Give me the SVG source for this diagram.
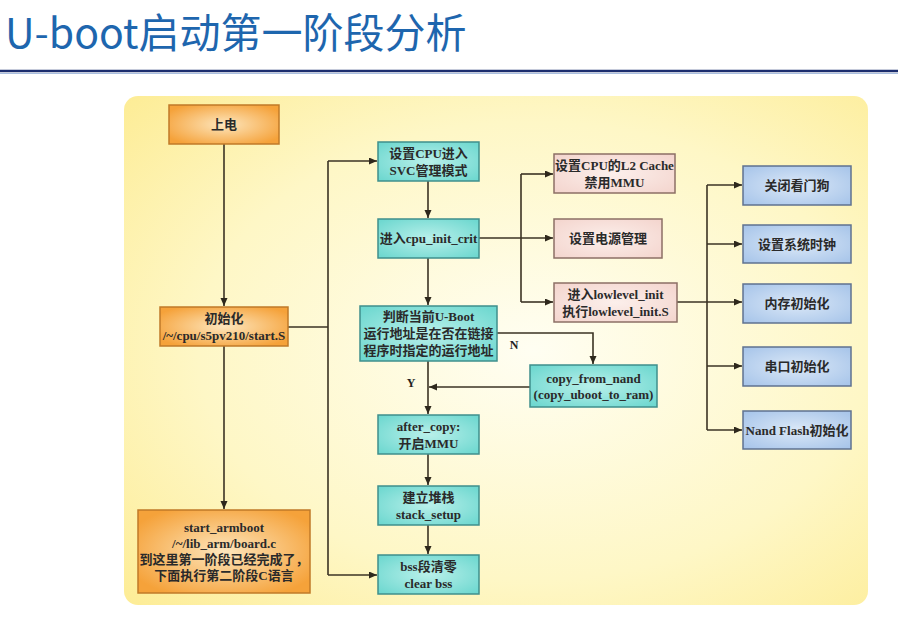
<svg xmlns="http://www.w3.org/2000/svg" width="898" height="618" viewBox="0 0 898 618">
<defs>
<style>
.t{font-family:"Liberation Serif","Noto Sans CJK SC",serif;font-weight:bold;font-size:13px;fill:#2a2a2a;text-anchor:middle;dominant-baseline:central}
.lab{font-family:"Liberation Serif",serif;font-weight:bold;font-size:12px;fill:#222;text-anchor:middle;dominant-baseline:central}
.or{fill:url(#gOr);stroke:#c07a28;stroke-width:1.5}
.tl{fill:url(#gTl);stroke:#3f8f8c;stroke-width:1.5}
.pk{fill:url(#gPk);stroke:#8c6f66;stroke-width:1.5}
.bl{fill:url(#gBl);stroke:#5f7290;stroke-width:1.5}
.c{fill:none;stroke:#3b3324;stroke-width:1.6}
.ca{fill:none;stroke:#3b3324;stroke-width:1.6;marker-end:url(#ar)}
</style>
<radialGradient id="gPanel" cx="0.55" cy="0.5" r="0.75">
<stop offset="0" stop-color="#fffef2"/>
<stop offset="0.6" stop-color="#fef7c6"/>
<stop offset="1" stop-color="#fdec94"/>
</radialGradient>
<radialGradient id="gOr" cx="0.5" cy="0.5" r="0.6">
<stop offset="0" stop-color="#fde6bd"/>
<stop offset="1" stop-color="#f5a23a"/>
</radialGradient>
<radialGradient id="gTl" cx="0.5" cy="0.5" r="0.65">
<stop offset="0" stop-color="#b9f0ea"/>
<stop offset="1" stop-color="#6fd8d0"/>
</radialGradient>
<radialGradient id="gPk" cx="0.5" cy="0.5" r="0.65">
<stop offset="0" stop-color="#fcefeb"/>
<stop offset="1" stop-color="#f4d6cf"/>
</radialGradient>
<radialGradient id="gBl" cx="0.5" cy="0.5" r="0.65">
<stop offset="0" stop-color="#dbe8f7"/>
<stop offset="1" stop-color="#a9c6ea"/>
</radialGradient>
<marker id="ar" markerUnits="userSpaceOnUse" markerWidth="9" markerHeight="8" refX="8" refY="3.5" orient="auto">
<path d="M0,0 L8,3.5 L0,7 z" fill="#2e281c"/>
</marker>
</defs>
<rect x="0" y="0" width="898" height="618" fill="#ffffff"/>
<text x="5" y="48" style="font-family:'Noto Sans CJK SC','Noto Sans',sans-serif;font-size:41px;fill:#1e66ae">U-boot启动第一阶段分析</text>
<line x1="0" y1="71" x2="898" y2="71" stroke="#1b2d6e" stroke-width="2.5"/>
<line x1="0" y1="73.5" x2="898" y2="73.5" stroke="#a9bfe0" stroke-width="1"/>
<rect id="panel" x="124" y="96" width="744" height="509" rx="14" fill="url(#gPanel)"/>

<g id="connectors">
<path class="ca" d="M224,144 V306"/>
<path class="ca" d="M224,346 V509"/>
<path class="c" d="M288,327 H328 M328,161 V575"/>
<path class="ca" d="M328,161 H377"/>
<path class="ca" d="M328,575 H377"/>
<path class="ca" d="M428,181 V218"/>
<path class="ca" d="M428,258 V305"/>
<path class="ca" d="M479,238 H553"/>
<path class="c" d="M521,174 V302"/>
<path class="ca" d="M521,174 H553"/>
<path class="ca" d="M521,302 H553"/>
<path class="ca" d="M677,302 H742"/>
<path class="c" d="M707,185 V430"/>
<path class="ca" d="M707,185 H742"/>
<path class="ca" d="M707,244 H742"/>
<path class="ca" d="M707,366 H742"/>
<path class="ca" d="M707,430 H742"/>
<path class="ca" d="M497,333 H593 V364"/>
<path class="ca" d="M428,361 V414"/>
<path class="ca" d="M530,387 H429"/>
<path class="ca" d="M428,454 V485"/>
<path class="ca" d="M428,525 V554"/>
<text class="lab" x="514" y="345">N</text>
<text class="lab" x="411" y="383">Y</text>
</g>

<g id="n-power"><rect class="or" x="169" y="105" width="110" height="39"/><text class="t" x="224" y="124.5">上电</text></g>
<g id="n-init"><rect class="or" x="160" y="307" width="128" height="39"/><text class="t" x="224" y="318">初始化</text><text class="t" x="224" y="335">/~/cpu/s5pv210/start.S</text></g>
<g id="n-armboot"><rect class="or" x="138" y="510" width="172" height="83"/><text class="t" x="224" y="527">start_armboot</text><text class="t" x="224" y="543">/~/lib_arm/board.c</text><text class="t" x="224" y="559">到这里第一阶段已经完成了，</text><text class="t" x="224" y="575">下面执行第二阶段C语言</text></g>

<g id="n-svc"><rect class="tl" x="378" y="142" width="101" height="39"/><text class="t" x="428.5" y="153">设置CPU进入</text><text class="t" x="428.5" y="170">SVC管理模式</text></g>
<g id="n-crit"><rect class="tl" x="378" y="219" width="101" height="39"/><text class="t" x="428.5" y="238.5">进入cpu_init_crit</text></g>
<g id="n-check"><rect class="tl" x="360" y="306" width="137" height="55"/><text class="t" x="428.5" y="316">判断当前U-Boot</text><text class="t" x="428.5" y="333">运行地址是在否在链接</text><text class="t" x="428.5" y="350">程序时指定的运行地址</text></g>
<g id="n-copy"><rect class="tl" x="530" y="365" width="127" height="42"/><text class="t" x="593.5" y="378">copy_from_nand</text><text class="t" x="593.5" y="394">(copy_uboot_to_ram)</text></g>
<g id="n-after"><rect class="tl" x="378" y="415" width="101" height="39"/><text class="t" x="428.5" y="426">after_copy:</text><text class="t" x="428.5" y="443">开启MMU</text></g>
<g id="n-stack"><rect class="tl" x="378" y="486" width="101" height="39"/><text class="t" x="428.5" y="497">建立堆栈</text><text class="t" x="428.5" y="514">stack_setup</text></g>
<g id="n-bss"><rect class="tl" x="378" y="555" width="101" height="39"/><text class="t" x="428.5" y="566">bss段清零</text><text class="t" x="428.5" y="583">clear bss</text></g>

<g id="n-l2"><rect class="pk" x="554" y="154" width="121" height="39"/><text class="t" x="614.5" y="165">设置CPU的L2 Cache</text><text class="t" x="614.5" y="182">禁用MMU</text></g>
<g id="n-pwr"><rect class="pk" x="554" y="219" width="108" height="39"/><text class="t" x="608" y="238.5">设置电源管理</text></g>
<g id="n-lowlevel"><rect class="pk" x="554" y="283" width="123" height="39"/><text class="t" x="615.5" y="294">进入lowlevel_init</text><text class="t" x="615.5" y="311">执行lowlevel_init.S</text></g>

<g id="n-wdt"><rect class="bl" x="743" y="166" width="108" height="39"/><text class="t" x="797" y="185.5">关闭看门狗</text></g>
<g id="n-clk"><rect class="bl" x="743" y="225" width="108" height="38"/><text class="t" x="797" y="244">设置系统时钟</text></g>
<g id="n-mem"><rect class="bl" x="743" y="284" width="108" height="39"/><text class="t" x="797" y="303">内存初始化</text></g>
<g id="n-uart"><rect class="bl" x="743" y="347" width="108" height="39"/><text class="t" x="797" y="366.5">串口初始化</text></g>
<g id="n-nand"><rect class="bl" x="743" y="411" width="108" height="38"/><text class="t" x="797" y="430">Nand Flash初始化</text></g>
</svg>
